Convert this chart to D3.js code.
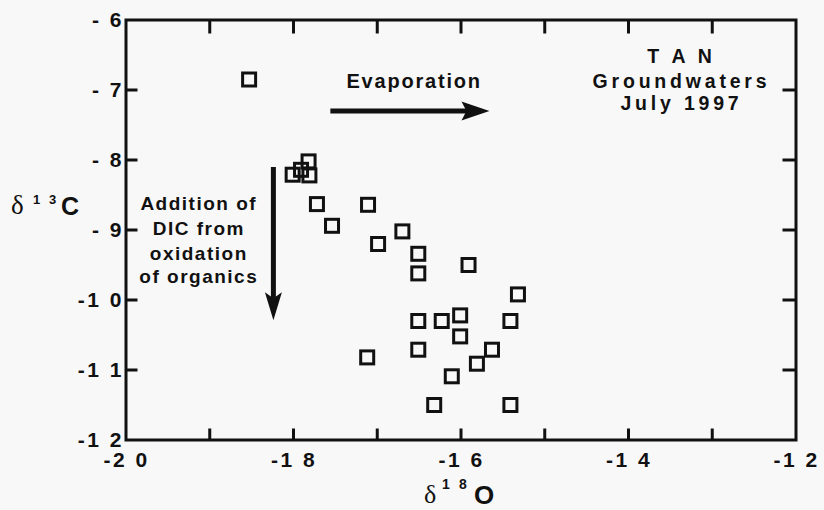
<!DOCTYPE html>
<html>
<head>
<meta charset="utf-8">
<script src="https://cdn.jsdelivr.net/npm/d3@7"></script>
<style>
  html, body { margin: 0; padding: 0; background: #f8f8f8; }
  svg { display: block; }
  .sans { font-family: "Liberation Sans", Arial, Helvetica, sans-serif; font-weight: bold; fill: #111; }
  .serif { font-family: "Liberation Serif", "DejaVu Serif", serif; fill: #111; }
</style>
</head>
<body>
<script>
// δ18O (x) and δ13C (y) for TAN groundwater samples, July 1997
const d18O = [-18.53, -18.01, -17.91, -17.82, -17.81, -17.72, -17.11, -17.54, -16.99, -16.70,
              -16.51, -16.51, -15.91, -15.32, -16.51, -16.23, -16.01, -15.41, -16.01, -16.51,
              -15.63, -15.81, -17.12, -16.11, -16.32, -15.41];
const d13C = [-6.85, -8.21, -8.14, -8.02, -8.22, -8.63, -8.64, -8.94, -9.20, -9.02,
              -9.34, -9.62, -9.50, -9.92, -10.30, -10.30, -10.22, -10.30, -10.52, -10.71,
              -10.71, -10.91, -10.82, -11.09, -11.50, -11.50];

const xTicks = [-20, -19, -18, -17, -16, -15, -14, -13, -12];
const xTickLabels = {"-20": "-2 0", "-18": "-1 8", "-16": "-1 6", "-14": "-1 4", "-12": "-1 2"};
const yTicks = [-6, -7, -8, -9, -10, -11, -12];
const yTickLabels = ["- 6", "- 7", "- 8", "- 9", "-1 0", "-1 1", "-1 2"];

const W = 824, H = 510;
const margin = {left: 126, right: 28, top: 20, bottom: 70};
const pw = W - margin.left - margin.right;
const ph = H - margin.top - margin.bottom;

const x = d3.scaleLinear().domain([-20, -12]).range([0, pw]);
const y = d3.scaleLinear().domain([-12, -6]).range([ph, 0]);

const svg = d3.select("body").append("svg").attr("width", W).attr("height", H);
const g = svg.append("g").attr("transform", `translate(${margin.left},${margin.top})`);

const ink = "#111";

// tick labels from d3 axes
function labelAxis(sel) {
  sel.select(".domain").remove();
  sel.selectAll(".tick line").remove();
  sel.selectAll(".tick text")
    .attr("class", "sans")
    .style("font-size", "21px")
    .style("letter-spacing", "2.5px");
}

g.append("g").attr("transform", `translate(0,${ph})`)
  .call(d3.axisBottom(x).tickValues(xTicks).tickSize(0).tickPadding(12)
    .tickFormat(d => xTickLabels[String(d)] || ""))
  .call(labelAxis);

g.append("g")
  .call(d3.axisLeft(y).tickValues(yTicks).tickSize(0).tickPadding(2)
    .tickFormat((d, i) => yTickLabels[i]))
  .call(labelAxis);

// open square markers
const side = 13;
g.append("g").selectAll("rect")
  .data(d18O.map((v, i) => [v, d13C[i]]))
  .join("rect")
  .attr("x", d => x(d[0]) - side / 2)
  .attr("y", d => y(d[1]) - side / 2)
  .attr("width", side)
  .attr("height", side)
  .attr("fill", "none")
  .attr("stroke", ink)
  .attr("stroke-width", 3);

// process arrows: evaporation (toward heavier δ18O), DIC addition (toward lighter δ13C)
const evapArrow = {x0: -17.56, x1: -15.66, y: -7.30};
const dicArrow = {x: -18.24, y0: -8.10, y1: -10.29};

g.append("line")
  .attr("x1", x(evapArrow.x0)).attr("x2", x(evapArrow.x1) - 22)
  .attr("y1", y(evapArrow.y)).attr("y2", y(evapArrow.y))
  .attr("stroke", ink).attr("stroke-width", 5);
{
  const tx = x(evapArrow.x1), ty = y(evapArrow.y);
  g.append("path")
    .attr("d", `M${tx},${ty} L${tx - 28},${ty - 9.5} L${tx - 23},${ty} L${tx - 28},${ty + 9.5} Z`)
    .attr("fill", ink);
}

g.append("line")
  .attr("x1", x(dicArrow.x)).attr("x2", x(dicArrow.x))
  .attr("y1", y(dicArrow.y0)).attr("y2", y(dicArrow.y1) - 22)
  .attr("stroke", ink).attr("stroke-width", 5);
{
  const tx = x(dicArrow.x), ty = y(dicArrow.y1);
  g.append("path")
    .attr("d", `M${tx},${ty} L${tx - 8.5},${ty - 28} L${tx},${ty - 22} L${tx + 8.5},${ty - 28} Z`)
    .attr("fill", ink);
}

// annotation text
function textBlock(lines, cx, baselines, size, spacing) {
  const t = g.append("text").attr("class", "sans").attr("text-anchor", "middle")
    .style("font-size", size + "px").style("letter-spacing", spacing + "px");
  lines.forEach((s, i) => {
    t.append("tspan").attr("x", cx + spacing / 2).attr("y", baselines[i]).text(s);
  });
}

textBlock(["Evaporation"], x(-16.57), [y(-6.97)], 20, 1.8);
textBlock(["Addition of", "DIC from", "oxidation", "of organics"], x(-19.14),
  [190, 215, 240, 263], 19, 1.5);
textBlock(["T A N", "Groundwaters", "July 1997"], x(-13.39), [43, 68, 90], 19.5, 3.8);

// axis titles
const yTitle = svg.append("text").attr("class", "sans");
yTitle.append("tspan").attr("class", "serif").style("font-weight", "normal").style("font-size", "27px")
  .attr("x", 11).attr("y", 214).text("δ");
yTitle.append("tspan").style("font-size", "13px").attr("x", 33).attr("y", 204).text("1");
yTitle.append("tspan").style("font-size", "13px").attr("x", 49).attr("y", 204).text("3");
yTitle.append("tspan").style("font-size", "25px").attr("x", 61).attr("y", 215).text("C");

const xTitle = svg.append("text").attr("class", "sans");
xTitle.append("tspan").attr("class", "serif").style("font-weight", "normal").style("font-size", "26px")
  .attr("x", 424).attr("y", 503).text("δ");
xTitle.append("tspan").style("font-size", "14px").attr("x", 442).attr("y", 489).text("1");
xTitle.append("tspan").style("font-size", "14px").attr("x", 459).attr("y", 489).text("8");
xTitle.append("tspan").style("font-size", "26px").attr("x", 474).attr("y", 504).text("O");

// plot frame and inward ticks on all four sides, as one path drawn on top
const x0 = margin.left + x(-20), x1 = margin.left + x(-12);
const y0 = margin.top + y(-6), y1 = margin.top + y(-12);
let frame = `M${x0},${y0}H${x1}V${y1}H${x0}Z`;
xTicks.slice(1, -1).forEach(v => {
  const px = margin.left + x(v);
  frame += `M${px},${y1}V${y1 - 10}M${px},${y0}V${y0 + 12}`;
});
yTicks.slice(1, -1).forEach(v => {
  const py = margin.top + y(v);
  frame += `M${x0},${py}H${x0 + 10}M${x1},${py}H${x1 - 12}`;
});
svg.append("path")
  .attr("d", frame)
  .attr("fill", "none")
  .attr("stroke", ink)
  .attr("stroke-width", 3)
  .attr("stroke-linecap", "square");
</script>
</body>
</html>
